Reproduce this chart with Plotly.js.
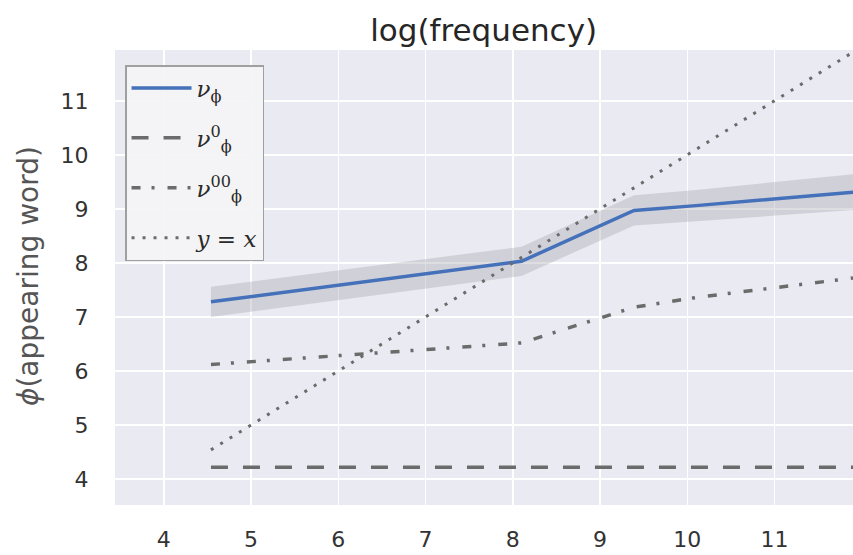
<!DOCTYPE html>
<html>
<head>
<meta charset="utf-8">
<script src="https://cdn.plot.ly/plotly-3.0.1.min.js"></script>
<style>html,body{margin:0;padding:0;background:#fff;}#chart{width:853px;height:555px;}</style>
</head>
<body>
<div id="chart"></div>
<script>
// x positions: log(frequency)
const logFreq = [4.54, 8.1, 9.39, 10.1, 11.9];
// nu_phi (mean) and its confidence band
const nuPhi      = [7.28, 8.03, 8.97, 9.06, 9.31];
const nuPhiLower = [7.00, 7.76, 8.69, 8.77, 8.98];
const nuPhiUpper = [7.56, 8.30, 9.25, 9.35, 9.64];
// nu_phi^0
const nuPhi0  = [4.22, 4.22, 4.22, 4.22, 4.22];
// nu_phi^00
const nuPhi00 = [6.12, 6.52, 7.18, 7.36, 7.72];
// reference line y = x
const refX = [4.54, 11.9];
const refY = [4.54, 11.9];

const legendNames = [
  '<i>ν</i><sub>ϕ</sub>',
  '<i>ν</i><sup>0</sup><sub>ϕ</sub>',
  '<i>ν</i><sup>00</sup><sub>ϕ</sub>',
  '<i>y</i> = <i>x</i>'
];
const yTitle = '<i>ϕ</i>(appearing word)';

const grey = '#6b6b6b';
const traces = [
  {
    x: logFreq.concat(logFreq.slice().reverse()),
    y: nuPhiUpper.concat(nuPhiLower.slice().reverse()),
    type: 'scatter', mode: 'lines', fill: 'toself',
    fillcolor: 'rgba(160,160,168,0.35)', line: {width: 0},
    showlegend: false, hoverinfo: 'skip'
  },
  {x: logFreq, y: nuPhi, type: 'scatter', mode: 'lines', name: legendNames[0],
   legendgroup: 'a', line: {color: '#4471b9', width: 3.5}},
  {x: logFreq, y: nuPhi0, type: 'scatter', mode: 'lines', name: legendNames[1],
   legendgroup: 'b', line: {color: grey, width: 3.5, dash: '17px,15px'}},
  {x: logFreq, y: nuPhi00, type: 'scatter', mode: 'lines', name: legendNames[2],
   legendgroup: 'c', line: {color: grey, width: 3.5, dash: '9px,11px,3px,13px'}},
  {x: refX, y: refY, type: 'scatter', mode: 'lines', name: legendNames[3],
   legendgroup: 'd', line: {color: grey, width: 3, dash: '3px,8px'}}
];

const layout = {
  width: 853, height: 555,
  margin: {l: 115, r: 0, t: 50, b: 50},
  paper_bgcolor: '#ffffff',
  plot_bgcolor: '#eaeaf2',
  font: {family: 'DejaVu Sans', color: '#333333', size: 22},
  title: {text: 'log(frequency)', font: {size: 31, color: '#262626'}, x: 0.567, xanchor: 'center', y: 0.945, yanchor: 'middle'},
  xaxis: {
    range: [3.44, 11.9], tickvals: [4,5,6,7,8,9,10,11],
    gridcolor: '#ffffff', gridwidth: 1.5, zeroline: false, showline: false,
    ticks: 'outside', ticklen: 15, tickcolor: 'rgba(0,0,0,0)',
    tickfont: {size: 22, color: '#333333'}
  },
  yaxis: {
    range: [3.52, 11.94], tickvals: [4,5,6,7,8,9,10,11],
    gridcolor: '#ffffff', gridwidth: 1.5, zeroline: false, showline: false,
    ticks: 'outside', ticklen: 21, tickcolor: 'rgba(0,0,0,0)',
    tickfont: {size: 22, color: '#333333'}
  },
  annotations: [{
    text: yTitle, xref: 'paper', yref: 'paper', x: -0.118, y: 0.503,
    xanchor: 'center', yanchor: 'middle', textangle: -90, showarrow: false,
    font: {size: 28, color: '#555555'}
  }],
  showlegend: true,
  legend: {
    x: 0.0136, y: 0.967, xanchor: 'left', yanchor: 'top',
    bgcolor: 'rgba(244,244,246,0.95)', bordercolor: '#a0a0a0', borderwidth: 1.5,
    font: {family: 'DejaVu Serif', size: 23, color: '#2a2a2a'},
    tracegroupgap: 17, itemwidth: 60
  }
};

Plotly.newPlot('chart', traces, layout, {displayModeBar: false, staticPlot: true});
</script>
</body>
</html>
